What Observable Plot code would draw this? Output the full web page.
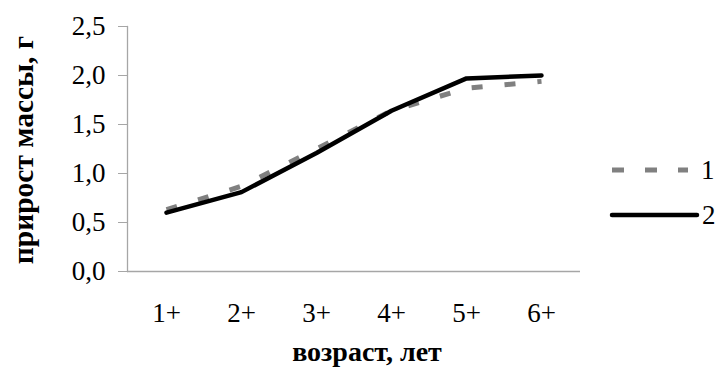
<!DOCTYPE html>
<html>
<head>
<meta charset="utf-8">
<script src="https://cdn.jsdelivr.net/npm/d3@7"></script>
<script src="https://cdn.jsdelivr.net/npm/@observablehq/plot@0.6"></script>
<style>
  body { margin: 0; background: #fff; }
  #wrap { position: relative; width: 719px; height: 388px; }
  #legend { position: absolute; left: 0; top: 0; }
</style>
</head>
<body>
<div id="wrap"></div>
<script>
const ages = ["1+", "2+", "3+", "4+", "5+", "6+"];
const series1 = [0.63, 0.87, 1.25, 1.64, 1.87, 1.94];
const series2 = [0.60, 0.81, 1.21, 1.64, 1.97, 2.00];
const seriesNames = ["1", "2"];
const yTicks = [0, 0.5, 1.0, 1.5, 2.0, 2.5];
const xTitle = "возраст, лет";
const yTitle = "прирост массы, г";

const rows1 = ages.map((a, i) => ({age: a, v: series1[i]}));
const rows2 = ages.map((a, i) => ({age: a, v: series2[i]}));

const axisColor = "#a6a6a6";
const grayColor = "#808080";
const font = "'Liberation Serif', 'Times New Roman', serif";

const chart = Plot.plot({
  width: 719,
  height: 388,
  marginLeft: 127,
  marginRight: 139,
  marginTop: 26,
  marginBottom: 117,
  style: {fontFamily: font, fontSize: "27px", color: "#000", background: "#fff"},
  x: {type: "point", domain: ages, padding: 0.5, label: null},
  y: {domain: [0, 2.5], label: null},
  marks: [
    Plot.frame({anchor: "left", stroke: axisColor, strokeWidth: 1.3}),
    Plot.ruleY([0], {stroke: axisColor, strokeWidth: 1.3}),
    Plot.axisY({ticks: yTicks, tickSize: 9, tickPadding: 13, stroke: axisColor, fill: "#000",
      fontSize: 27, tickFormat: d => d.toFixed(1).replace(".", ","), label: null}),
    Plot.axisX({tickSize: 0, tickPadding: 31, fill: "#000", fontSize: 27, label: null}),
    Plot.lineY(rows1, {x: "age", y: "v", stroke: grayColor, strokeWidth: 5,
      strokeDasharray: "11,22", strokeLinecap: "butt", strokeLinejoin: "round"}),
    Plot.lineY(rows2, {x: "age", y: "v", stroke: "#000", strokeWidth: 4.5,
      strokeLinecap: "round", strokeLinejoin: "round"}),
    Plot.text([xTitle], {frameAnchor: "bottom", dx: 13, dy: 81, lineAnchor: "middle",
      fontWeight: "bold", fontSize: 28, fill: "#000"}),
    Plot.text([yTitle], {frameAnchor: "left", dx: -104, dy: 1, rotate: -90, textAnchor: "middle",
      lineAnchor: "middle", fontWeight: "bold", fontSize: 29.5, fill: "#000"})
  ]
});

const wrap = document.getElementById("wrap");
wrap.appendChild(chart);

// legend
const leg = d3.select(wrap).append("svg")
  .attr("id", "legend").attr("width", 719).attr("height", 388)
  .style("font-family", font).style("font-size", "27px");
const items = [
  {name: seriesNames[0], y: 170, stroke: grayColor, w: 5, dash: "12,21", cap: "butt", x1: 612, x2: 688, tx: 701},
  {name: seriesNames[1], y: 215, stroke: "#000", w: 4.5, dash: null, cap: "round", x1: 612, x2: 697, tx: 702}
];
items.forEach(it => {
  leg.append("line").attr("x1", it.x1).attr("x2", it.x2).attr("y1", it.y).attr("y2", it.y)
    .attr("stroke", it.stroke).attr("stroke-width", it.w).attr("stroke-linecap", it.cap)
    .attr("stroke-dasharray", it.dash);
  leg.append("text").attr("x", it.tx).attr("y", it.y).attr("dy", "0.35em").text(it.name);
});
</script>
</body>
</html>
